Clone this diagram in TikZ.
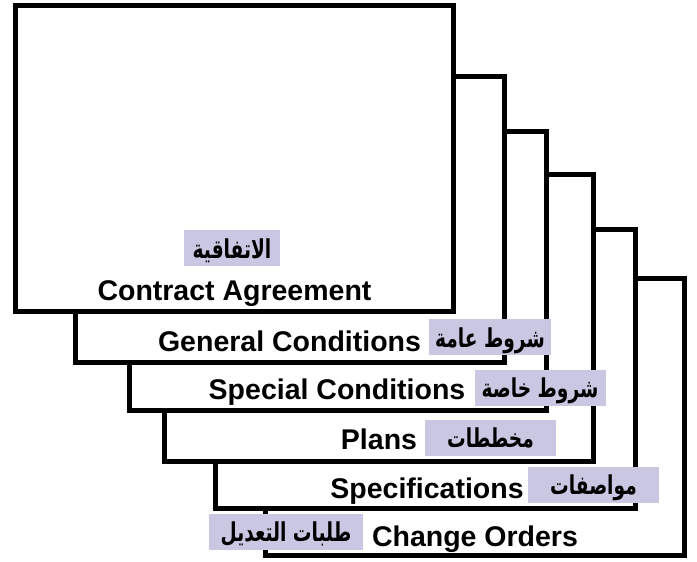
\documentclass[tikz,border=0pt]{standalone}
\usepackage{fontspec}
\setmainfont{Liberation Sans}
\newfontfamily\arabicfont[Script=Arabic]{DejaVu Sans}
\TeXXeTstate=1
\definecolor{tagfill}{RGB}{201,199,225}
% Arabic label text, right to left, slightly condensed and heightened,
% its baseline set below the middle of the label
\newcommand{\artag}[1]{\raisebox{-10pt}[0pt][0pt]{\scalebox{0.93}[1.3]{\beginR #1\endR}}}
\begin{document}
\begin{tikzpicture}[x=1pt,y=-1pt,
  sheet/.style={draw=black, fill=white, line width=5pt, line join=miter},
  title/.style={font=\fontsize{28.5}{30}\selectfont\bfseries, inner sep=0pt, anchor=base},
  tag/.style={fill=tagfill, inner sep=0pt, minimum height=36pt,
    font=\arabicfont\bfseries\fontsize{20}{22}\selectfont}]
\useasboundingbox (0,0) rectangle (697,562);
% stacked document sheets, back to front
\draw[sheet] (265.5,278.5) rectangle (684.5,555);
\draw[sheet] (215.5,229.5) rectangle (635.5,508.5);
\draw[sheet] (164.5,174.5) rectangle (593.5,461.5);
\draw[sheet] (129.5,131.5) rectangle (546.5,410.5);
\draw[sheet] (75.5,76.5) rectangle (504.5,362.5);
\draw[sheet] (15.5,5.5) rectangle (453.5,311.5);
% English titles
\node[title] (ca) at (234.5,300) {Contract Agreement};
\node[title] (gc) at (289.5,351.5) {General Conditions};
\node[title] (sc) at (337,399.5) {Special Conditions};
\node[title] (pl) at (379,449.5) {Plans};
\node[title] (sp) at (427,498) {Specifications};
\node[title] (co) at (475,546.5) {Change Orders};
% Arabic tags
\node[tag, minimum width=96pt] (tca) at (232,248) {\artag{الاتفاقية}};
\node[tag, minimum width=122pt] (tgc) at (490,337) {\artag{شروط عامة}};
\node[tag, minimum width=131pt] (tsc) at (540,387.5) {\artag{شروط خاصة}};
\node[tag, minimum width=131pt] (tpl) at (490.5,437.5) {\artag{مخططات}};
\node[tag, minimum width=131pt] (tsp) at (593.5,484.5) {\artag{مواصفات}};
\node[tag, minimum width=154pt] (tco) at (286,531.5) {\artag{طلبات التعديل}};
\end{tikzpicture}
\end{document}
